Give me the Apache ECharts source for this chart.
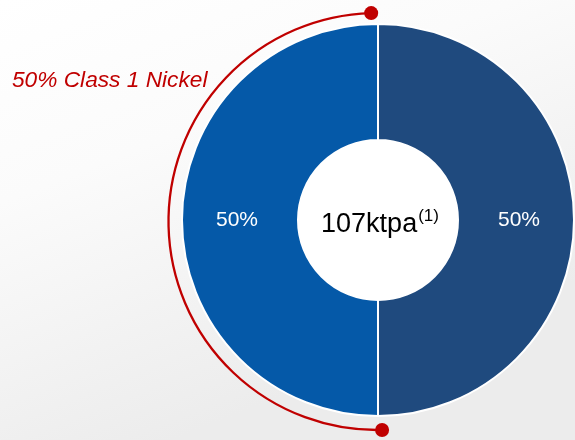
<!DOCTYPE html>
<html><head><meta charset="utf-8">
<script src="https://cdn.jsdelivr.net/npm/echarts@6/dist/echarts.min.js"></script>
<style>html,body{margin:0;padding:0;}#c{width:575px;height:440px;}</style>
</head><body><div id="c"></div>
<script>
const categories = ['Other', 'Class 1 Nickel'];
const values = [50, 50];
const sliceLabels = ['50%', '50%'];
const centerValue = '107ktpa';
const centerNote = '(1)';
const calloutText = '50% Class 1 Nickel';
const colors = ['#1F4A7E', '#0559A8'];

const chart = echarts.init(document.getElementById('c'));
const cx = 378, cy = 220;
const arcR = 208.5, arcCx = 377, arcCy = 221.5;
const a0 = 88.6 * Math.PI / 180, a1 = 268.4 * Math.PI / 180;
chart.setOption({
  backgroundColor: {
    type: 'linear', x: 0, y: 0, x2: 0.3, y2: 1,
    colorStops: [{offset: 0, color: '#ffffff'}, {offset: 0.4, color: '#fbfbfb'}, {offset: 1, color: '#ececec'}]
  },
  animation: false,
  series: [{
    type: 'pie',
    center: [cx, cy],
    radius: [80, 196],
    startAngle: 90,
    clockwise: true,
    itemStyle: { borderColor: '#ffffff', borderWidth: 2 },
    label: {
      show: true, position: 'inside', color: '#ffffff',
      fontFamily: 'Liberation Sans, Arial, sans-serif', fontSize: 21,
      formatter: p => sliceLabels[p.dataIndex]
    },
    labelLine: { show: false },
    emphasis: { disabled: true },
    data: categories.map((c, i) => ({ name: c, value: values[i], itemStyle: { color: colors[i] } }))
  }],
  graphic: [
    { type: 'circle', shape: { cx: cx, cy: cy, r: 80 }, style: { fill: '#ffffff' }, z: 1 },
    { type: 'arc', shape: { cx: arcCx, cy: arcCy, r: arcR, startAngle: a0, endAngle: a1, clockwise: true },
      style: { stroke: '#C00000', lineWidth: 2.3, fill: null }, z: 5 },
    { type: 'circle', shape: { cx: arcCx + arcR * Math.cos(a0), cy: arcCy + arcR * Math.sin(a0), r: 7 }, style: { fill: '#C00000' }, z: 6 },
    { type: 'circle', shape: { cx: arcCx + arcR * Math.cos(a1), cy: arcCy + arcR * Math.sin(a1), r: 7 }, style: { fill: '#C00000' }, z: 6 },
    { type: 'text', x: cx + 2, y: cy + 3, z: 10,
      style: {
        text: '{a|' + centerValue + '}{b|' + centerNote + '}',
        align: 'center', verticalAlign: 'middle',
        rich: {
          a: { fontFamily: 'Liberation Sans, Arial, sans-serif', fontSize: 27, fill: '#000000', verticalAlign: 'bottom', lineHeight: 30 },
          b: { fontFamily: 'Liberation Sans, Arial, sans-serif', fontSize: 17, fill: '#000000', verticalAlign: 'top', padding: [0, 0, 12, 1] }
        }
      }
    },
    { type: 'text', x: 12, y: 81, z: 10,
      style: {
        text: calloutText, fill: '#C00000', fontStyle: 'italic',
        fontFamily: 'Liberation Sans, Arial, sans-serif', fontSize: 22.7,
        verticalAlign: 'middle', align: 'left'
      }
    }
  ]
});
</script></body></html>
